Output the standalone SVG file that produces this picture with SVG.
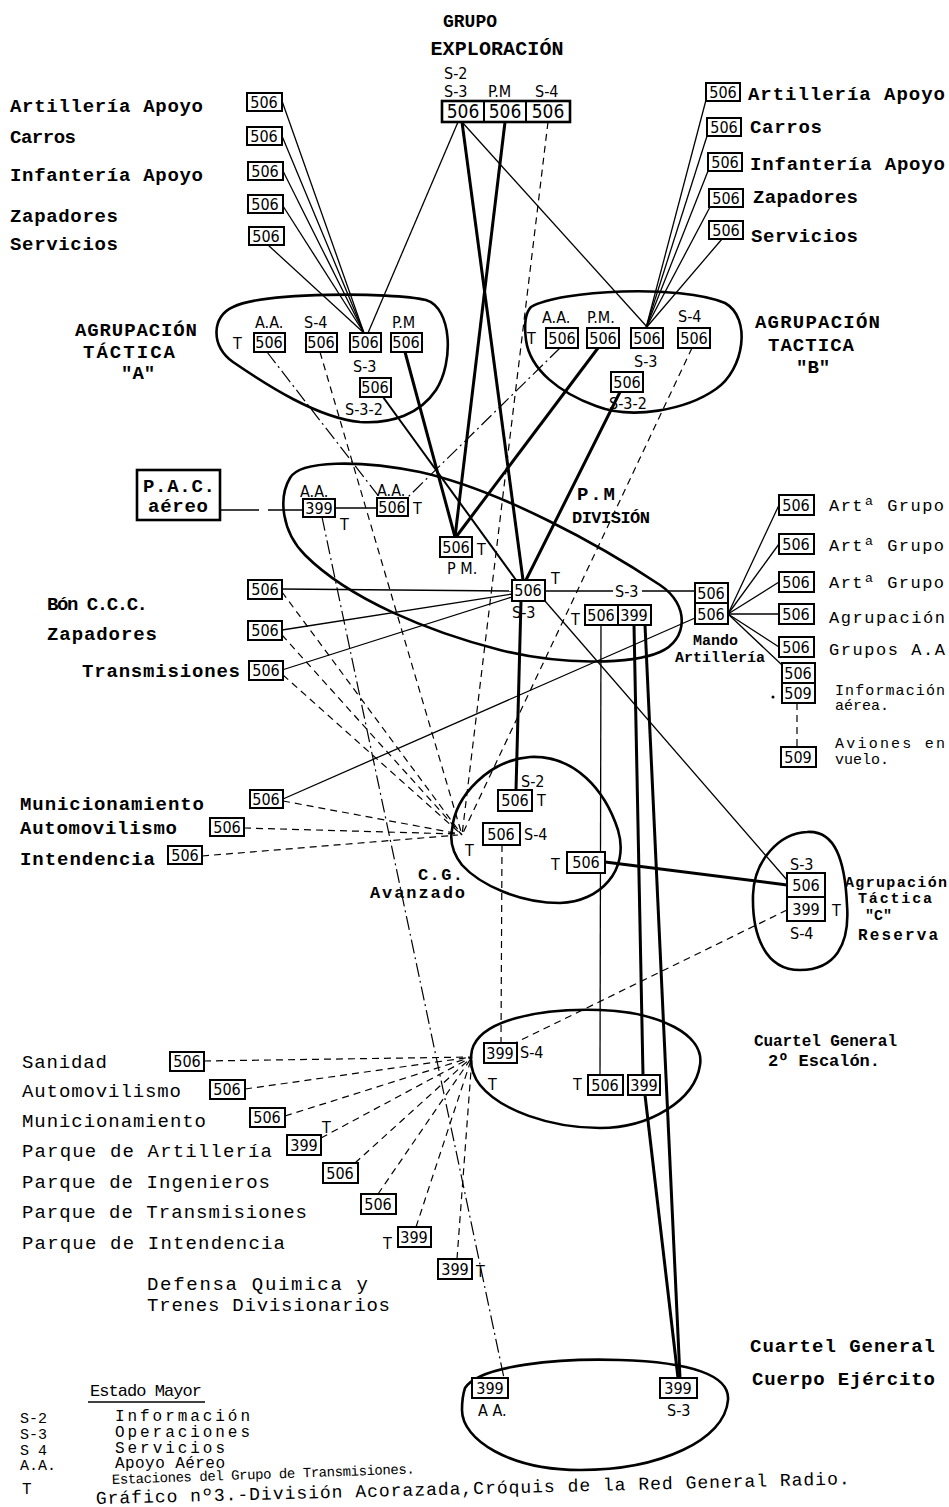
<svg xmlns="http://www.w3.org/2000/svg" width="949" height="1507" viewBox="0 0 949 1507">
<style>
.bg{fill:#fff}
.bx{fill:#fff;stroke:#000;stroke-width:2}
.bl{fill:none;stroke:#000;stroke-width:2.6}
.n{font-family:"Liberation Sans Narrow","DejaVu Sans Condensed","Liberation Sans",sans-serif;font-size:16px;fill:#000}
.c{text-anchor:middle}
.tw{font-family:"Liberation Mono","DejaVu Sans Mono",monospace;font-weight:bold;font-size:19px;fill:#000}
.tr{font-family:"Liberation Mono","DejaVu Sans Mono",monospace;font-size:19px;fill:#000}
.l{stroke:#000;stroke-width:1.3;fill:none}
.m{stroke:#000;stroke-width:2;fill:none}
.k{stroke:#000;stroke-width:3;fill:none}
.d{stroke:#000;stroke-width:1.2;stroke-dasharray:7 5;fill:none}
.dd{stroke:#000;stroke-width:1.2;stroke-dasharray:14 4 2 4;fill:none}
</style>
<rect class="bg" x="0" y="0" width="949" height="1507"/>

<g id="connectors">
<line class="l" x1="282" y1="101" x2="364" y2="333"/>
<line class="l" x1="282" y1="136" x2="364" y2="333"/>
<line class="l" x1="283" y1="171" x2="364" y2="333"/>
<line class="l" x1="283" y1="206" x2="364" y2="333"/>
<line class="l" x1="268" y1="245" x2="364" y2="333"/>
<line class="l" x1="706" y1="100" x2="646" y2="328"/>
<line class="l" x1="707" y1="136" x2="646" y2="328"/>
<line class="l" x1="708" y1="171" x2="646" y2="328"/>
<line class="l" x1="710" y1="207" x2="646" y2="328"/>
<line class="l" x1="722" y1="239" x2="646" y2="328"/>
<line class="l" x1="458" y1="122" x2="368" y2="333"/>
<line class="l" x1="462" y1="122" x2="648" y2="328"/>
<line class="k" x1="462" y1="122" x2="523" y2="580"/>
<line class="k" x1="505" y1="122" x2="455" y2="537"/>
<line class="d" x1="548" y1="122" x2="462" y2="835"/>
<line class="k" x1="405" y1="352" x2="455" y2="537"/>
<line class="m" x1="383" y1="397" x2="516" y2="580"/>
<line class="dd" x1="267" y1="352" x2="380" y2="498"/>
<line class="d" x1="320" y1="352" x2="462" y2="835"/>
<line class="k" x1="598" y1="348" x2="456" y2="537"/>
<line class="k" x1="620" y1="392" x2="526" y2="580"/>
<line class="dd" x1="560" y1="348" x2="407" y2="498"/>
<line class="d" x1="692" y1="348" x2="462" y2="835"/>
<line class="l" x1="220" y1="510" x2="259" y2="510"/>
<line class="l" x1="268" y1="510" x2="303" y2="510"/>
<line class="l" x1="335" y1="508" x2="377" y2="508"/>
<line class="dd" x1="322" y1="517" x2="504" y2="1378"/>
<line class="l" x1="545" y1="591" x2="613" y2="591"/>
<line class="l" x1="642" y1="591" x2="695" y2="591"/>
<line class="l" x1="282" y1="589" x2="512" y2="591"/>
<line class="l" x1="282" y1="630" x2="512" y2="594"/>
<line class="l" x1="282" y1="670" x2="512" y2="597"/>
<line class="k" x1="521" y1="601" x2="516" y2="790"/>
<line class="l" x1="545" y1="601" x2="787" y2="880"/>
<line class="l" x1="601" y1="625" x2="600" y2="1075"/>
<line class="k" x1="634" y1="625" x2="643" y2="1075"/>
<line class="k" x1="645" y1="625" x2="680" y2="1378"/>
<line class="k" x1="645" y1="1095" x2="678" y2="1378"/>
<line class="l" x1="728" y1="614" x2="779" y2="505"/>
<line class="l" x1="728" y1="614" x2="779" y2="544"/>
<line class="l" x1="728" y1="614" x2="779" y2="582"/>
<line class="l" x1="728" y1="614" x2="779" y2="614"/>
<line class="l" x1="728" y1="614" x2="779" y2="647"/>
<line class="l" x1="728" y1="614" x2="782" y2="665"/>
<line class="d" x1="797" y1="703" x2="797" y2="747"/>
<line class="l" x1="283" y1="799" x2="695" y2="618"/>
<line class="d" x1="282" y1="592" x2="462" y2="835"/>
<line class="d" x1="282" y1="635" x2="462" y2="835"/>
<line class="d" x1="283" y1="675" x2="462" y2="835"/>
<line class="d" x1="283" y1="801" x2="460" y2="834"/>
<line class="d" x1="244" y1="828" x2="458" y2="834"/>
<line class="d" x1="202" y1="856" x2="458" y2="835"/>
<line class="d" x1="502" y1="845" x2="501" y2="1043"/>
<line class="k" x1="605" y1="862" x2="787" y2="885"/>
<line class="d" x1="787" y1="910" x2="515" y2="1043"/>
<line class="d" x1="204" y1="1061" x2="472" y2="1057"/>
<line class="d" x1="245" y1="1089" x2="472" y2="1057"/>
<line class="d" x1="285" y1="1116" x2="472" y2="1057"/>
<line class="d" x1="321" y1="1138" x2="472" y2="1057"/>
<line class="d" x1="355" y1="1163" x2="472" y2="1057"/>
<line class="d" x1="378" y1="1194" x2="472" y2="1057"/>
<line class="d" x1="416" y1="1227" x2="472" y2="1057"/>
<line class="d" x1="457" y1="1259" x2="472" y2="1057"/>
</g>

<g id="grupo-exploracion">
<text class="tw c" x="470" y="27" style="font-size:18px">GRUPO</text>
<text class="tw c" x="497" y="55" style="font-size:20px" textLength="133">EXPLORACIÓN</text>
<text class="n" x="444" y="79">S-2</text>
<text class="n" x="444" y="97">S-3</text>
<text class="n" x="488" y="97">P.M</text>
<text class="n" x="535" y="97">S-4</text>
<rect class="bl" x="442" y="101" width="128" height="21"/>
<line class="m" x1="484" y1="101" x2="484" y2="122"/>
<line class="m" x1="526" y1="101" x2="526" y2="122"/>
<text class="n c" x="463" y="118" style="font-size:19px">506</text>
<text class="n c" x="505" y="118" style="font-size:19px">506</text>
<text class="n c" x="548" y="118" style="font-size:19px">506</text>
</g>

<g id="apoyo-izq">
<text class="tw" x="10" y="112" textLength="193">Artillería Apoyo</text>
<text class="tw" x="10" y="143" textLength="66">Carros</text>
<text class="tw" x="10" y="181" textLength="193">Infantería Apoyo</text>
<text class="tw" x="10" y="222" textLength="108">Zapadores</text>
<text class="tw" x="10" y="250" textLength="108">Servicios</text>
<rect class="bx" x="247" y="93" width="35" height="18"/><text class="n c" x="264" y="108">506</text>
<rect class="bx" x="247" y="127" width="35" height="18"/><text class="n c" x="264" y="142">506</text>
<rect class="bx" x="248" y="162" width="35" height="18"/><text class="n c" x="265" y="177">506</text>
<rect class="bx" x="248" y="195" width="35" height="18"/><text class="n c" x="265" y="210">506</text>
<rect class="bx" x="249" y="227" width="35" height="18"/><text class="n c" x="266" y="242">506</text>
</g>

<g id="apoyo-der">
<rect class="bx" x="706" y="83" width="34" height="18"/><text class="n c" x="723" y="98">506</text>
<rect class="bx" x="707" y="118" width="34" height="18"/><text class="n c" x="724" y="133">506</text>
<rect class="bx" x="708" y="153" width="34" height="18"/><text class="n c" x="725" y="168">506</text>
<rect class="bx" x="709" y="189" width="34" height="18"/><text class="n c" x="726" y="204">506</text>
<rect class="bx" x="709" y="221" width="34" height="18"/><text class="n c" x="726" y="236">506</text>
<text class="tw" x="748" y="100" textLength="197">Artillería Apoyo</text>
<text class="tw" x="750" y="133" textLength="72">Carros</text>
<text class="tw" x="750" y="170" textLength="195">Infantería Apoyo</text>
<text class="tw" x="753" y="203" textLength="105">Zapadores</text>
<text class="tw" x="751" y="242" textLength="107">Servicios</text>
</g>

<g id="agrupacion-a">
<path class="bl" d="M 233,307 C 262,292 392,292 426,300 C 452,308 454,362 436,390 C 420,414 392,424 360,422 C 318,418 268,386 233,362 C 210,345 212,316 233,307 Z"/>
<text class="tw" x="75" y="336" textLength="122">AGRUPACIÓN</text>
<text class="tw" x="83" y="358" textLength="92">TÁCTICA</text>
<text class="tw" x="121" y="379">"A"</text>
<text class="n" x="255" y="328">A.A.</text>
<text class="n" x="304" y="328">S-4</text>
<text class="n" x="392" y="328">P.M</text>
<text class="n" x="233" y="349">T</text>
<rect class="bx" x="254" y="333" width="31" height="19"/><text class="n c" x="269" y="348">506</text>
<rect class="bx" x="306" y="333" width="31" height="19"/><text class="n c" x="321" y="348">506</text>
<rect class="bx" x="350" y="333" width="31" height="19"/><text class="n c" x="365" y="348">506</text>
<rect class="bx" x="391" y="333" width="31" height="19"/><text class="n c" x="406" y="348">506</text>
<text class="n" x="353" y="372">S-3</text>
<rect class="bx" x="360" y="378" width="31" height="19"/><text class="n c" x="375" y="393">506</text>
<text class="n" x="345" y="415">S-3-2</text>
</g>

<g id="agrupacion-b">
<path class="bl" d="M 531,307 C 560,290 680,284 725,303 C 752,318 744,370 716,389 C 686,410 632,420 596,406 C 560,393 530,370 526,340 C 524,324 525,313 531,307 Z"/>
<text class="tw" x="755" y="328" textLength="125">AGRUPACIÓN</text>
<text class="tw" x="768" y="351" textLength="86">TACTICA</text>
<text class="tw" x="796" y="373">"B"</text>
<text class="n" x="542" y="323">A.A.</text>
<text class="n" x="587" y="323">P.M.</text>
<text class="n" x="678" y="322">S-4</text>
<text class="n" x="527" y="344">T</text>
<rect class="bx" x="546" y="328" width="32" height="20"/><text class="n c" x="562" y="344">506</text>
<rect class="bx" x="587" y="328" width="32" height="20"/><text class="n c" x="603" y="344">506</text>
<rect class="bx" x="631" y="328" width="32" height="20"/><text class="n c" x="647" y="344">506</text>
<rect class="bx" x="678" y="328" width="32" height="20"/><text class="n c" x="694" y="344">506</text>
<text class="n" x="634" y="367">S-3</text>
<rect class="bx" x="611" y="372" width="32" height="20"/><text class="n c" x="627" y="388">506</text>
<text class="n" x="609" y="409">S-3-2</text>
</g>

<g id="pac-aereo">
<rect class="bl" x="137" y="470" width="83" height="50"/>
<text class="tw" x="143" y="492" textLength="72">P.A.C.</text>
<text class="tw" x="148" y="512" textLength="60">aéreo</text>
</g>

<g id="pm-division">
<path class="bl" d="M 290,478 C 300,460 360,460 420,472 C 500,490 600,545 660,585 C 690,605 688,640 660,652 C 630,665 560,665 500,650 C 430,632 350,600 305,555 C 282,532 278,498 290,478 Z"/>
<text class="tw" x="577" y="500" textLength="38">P.M</text>
<text class="tw" x="572" y="523" style="font-size:17px" textLength="78">DIVISIÓN</text>
<text class="n" x="300" y="497">A.A.</text>
<rect class="bx" x="303" y="499" width="32" height="18"/><text class="n c" x="319" y="514">399</text>
<text class="n" x="340" y="530">T</text>
<text class="n" x="377" y="496">A.A.</text>
<rect class="bx" x="377" y="498" width="31" height="18"/><text class="n c" x="392" y="513">506</text>
<text class="n" x="413" y="514">T</text>
<rect class="bx" x="440" y="537" width="32" height="20"/><text class="n c" x="456" y="553">506</text>
<text class="n" x="477" y="555">T</text>
<text class="n" x="447" y="574">P M.</text>
<rect class="bx" x="512" y="580" width="33" height="21"/><text class="n c" x="528" y="596">506</text>
<text class="n" x="551" y="584">T</text>
<text class="n" x="512" y="618">S-3</text>
<text class="n" x="615" y="597">S-3</text>
<text class="n" x="571" y="625">T</text>
<rect class="bx" x="585" y="605" width="33" height="20"/><text class="n c" x="601" y="621">506</text>
<rect class="bx" x="618" y="605" width="33" height="20"/><text class="n c" x="634" y="621">399</text>
</g>

<g id="mando-artilleria">
<rect class="bx" x="695" y="583" width="33" height="20"/><text class="n c" x="711" y="599">506</text>
<rect class="bx" x="695" y="603" width="33" height="21"/><text class="n c" x="711" y="620">506</text>
<text class="tw" x="693" y="645" style="font-size:15px">Mando</text>
<text class="tw" x="675" y="662" style="font-size:15px" textLength="90">Artillería</text>
</g>

<g id="unidades-artilleria">
<rect class="bx" x="779" y="495" width="35" height="20"/><text class="n c" x="796" y="511">506</text>
<rect class="bx" x="779" y="534" width="35" height="20"/><text class="n c" x="796" y="550">506</text>
<rect class="bx" x="779" y="572" width="35" height="20"/><text class="n c" x="796" y="588">506</text>
<rect class="bx" x="779" y="604" width="35" height="20"/><text class="n c" x="796" y="620">506</text>
<rect class="bx" x="779" y="637" width="35" height="20"/><text class="n c" x="796" y="653">506</text>
<rect class="bx" x="782" y="663" width="33" height="20"/><text class="n c" x="798" y="679">506</text>
<rect class="bx" x="782" y="683" width="33" height="20"/><text class="n c" x="798" y="699">509</text>
<circle cx="773" cy="697" r="1.5" fill="#000"/>
<rect class="bx" x="781" y="747" width="35" height="20"/><text class="n c" x="798" y="763">509</text>
<text class="tr" x="829" y="511" style="font-size:17px" textLength="115">Artª Grupo</text>
<text class="tr" x="829" y="551" style="font-size:17px" textLength="115">Artª Grupo</text>
<text class="tr" x="829" y="588" style="font-size:17px" textLength="115">Artª Grupo</text>
<text class="tr" x="829" y="623" style="font-size:17px" textLength="116">Agrupación</text>
<text class="tr" x="829" y="655" style="font-size:17px" textLength="116">Grupos A.A</text>
<text class="tr" x="835" y="695" style="font-size:15px" textLength="110">Información</text>
<text class="tr" x="835" y="710" style="font-size:15px">aérea.</text>
<text class="tr" x="835" y="748" style="font-size:15px" textLength="110">Aviones en</text>
<text class="tr" x="835" y="764" style="font-size:15px">vuelo.</text>
</g>

<g id="bon-ccc">
<text class="tw" x="47" y="610" textLength="101">Bón C.C.C.</text>
<text class="tw" x="47" y="640" textLength="110">Zapadores</text>
<text class="tw" x="82" y="677" textLength="158">Transmisiones</text>
<rect class="bx" x="248" y="580" width="34" height="19"/><text class="n c" x="265" y="595">506</text>
<rect class="bx" x="248" y="621" width="34" height="19"/><text class="n c" x="265" y="636">506</text>
<rect class="bx" x="249" y="661" width="34" height="19"/><text class="n c" x="266" y="676">506</text>
</g>

<g id="servicios-avanzados">
<text class="tw" x="20" y="810" textLength="184">Municionamiento</text>
<text class="tw" x="20" y="834" textLength="157">Automovilismo</text>
<text class="tw" x="20" y="865" textLength="135">Intendencia</text>
<rect class="bx" x="250" y="790" width="33" height="18"/><text class="n c" x="266" y="805">506</text>
<rect class="bx" x="210" y="818" width="34" height="18"/><text class="n c" x="227" y="833">506</text>
<rect class="bx" x="168" y="846" width="34" height="18"/><text class="n c" x="185" y="861">506</text>
</g>

<g id="cg-avanzado">
<path class="bl" d="M 452,830 C 455,795 490,760 530,757 C 575,755 605,790 618,830 C 630,870 600,902 560,903 C 520,903 480,885 462,865 C 452,852 450,840 452,830 Z"/>
<text class="n" x="521" y="787">S-2</text>
<rect class="bx" x="498" y="790" width="34" height="21"/><text class="n c" x="515" y="806">506</text>
<text class="n" x="537" y="806">T</text>
<rect class="bx" x="483" y="823" width="37" height="22"/><text class="n c" x="501" y="840">506</text>
<text class="n" x="524" y="840">S-4</text>
<text class="n" x="465" y="856">T</text>
<text class="n" x="551" y="870">T</text>
<rect class="bx" x="567" y="852" width="38" height="21"/><text class="n c" x="586" y="868">506</text>
<text class="tw" x="418" y="880" style="font-size:17px" textLength="45">C.G.</text>
<text class="tw" x="370" y="898" style="font-size:17px" textLength="95">Avanzado</text>
</g>

<g id="agrupacion-c">
<path class="bl" d="M 807,832 C 835,830 845,860 847,905 C 850,945 835,970 800,970 C 765,970 752,935 753,895 C 754,860 780,833 807,832 Z"/>
<text class="n" x="790" y="870">S-3</text>
<rect class="bx" x="787" y="873" width="38" height="24"/><text class="n c" x="806" y="891">506</text>
<rect class="bx" x="787" y="897" width="38" height="24"/><text class="n c" x="806" y="915">399</text>
<text class="n" x="832" y="916">T</text>
<text class="n" x="790" y="939">S-4</text>
<text class="tw" x="845" y="887" style="font-size:15px" textLength="102">Agrupación</text>
<text class="tw" x="858" y="903" style="font-size:15px" textLength="74">Táctica</text>
<text class="tw" x="865" y="920" style="font-size:15px">"C"</text>
<text class="tw" x="858" y="940" style="font-size:16px" textLength="80">Reserva</text>
</g>

<g id="cg-2-escalon">
<path class="bl" d="M 472,1050 C 480,1020 540,1008 600,1010 C 660,1012 705,1035 700,1065 C 695,1100 650,1128 600,1128 C 550,1128 500,1110 480,1085 C 470,1072 470,1060 472,1050 Z"/>
<rect class="bx" x="484" y="1043" width="33" height="20"/><text class="n c" x="500" y="1059">399</text>
<text class="n" x="520" y="1058">S-4</text>
<text class="n" x="488" y="1090">T</text>
<text class="n" x="573" y="1090">T</text>
<rect class="bx" x="588" y="1075" width="35" height="20"/><text class="n c" x="605" y="1091">506</text>
<rect class="bx" x="628" y="1075" width="32" height="20"/><text class="n c" x="644" y="1091">399</text>
<text class="tw" x="754" y="1046" style="font-size:16px" textLength="143">Cuartel General</text>
<text class="tw" x="768" y="1066" style="font-size:17px" textLength="112">2º Escalón.</text>
</g>

<g id="servicios-retaguardia">
<text class="tr" x="22" y="1068" textLength="85">Sanidad</text>
<text class="tr" x="22" y="1097" textLength="159">Automovilismo</text>
<text class="tr" x="22" y="1127" textLength="184">Municionamiento</text>
<text class="tr" x="22" y="1157" textLength="250">Parque de Artillería</text>
<text class="tr" x="22" y="1188" textLength="248">Parque de Ingenieros</text>
<text class="tr" x="22" y="1218" textLength="285">Parque de Transmisiones</text>
<text class="tr" x="22" y="1249" textLength="263">Parque de Intendencia</text>
<text class="tr" x="147" y="1290" textLength="221">Defensa Quimica  y</text>
<text class="tr" x="147" y="1311" textLength="243">Trenes Divisionarios</text>
<rect class="bx" x="170" y="1052" width="34" height="19"/><text class="n c" x="187" y="1067">506</text>
<rect class="bx" x="210" y="1080" width="35" height="19"/><text class="n c" x="227" y="1095">506</text>
<rect class="bx" x="250" y="1108" width="35" height="19"/><text class="n c" x="267" y="1123">506</text>
<rect class="bx" x="287" y="1135" width="34" height="20"/><text class="n c" x="304" y="1151">399</text>
<text class="n" x="322" y="1133">T</text>
<rect class="bx" x="323" y="1163" width="35" height="20"/><text class="n c" x="340" y="1179">506</text>
<rect class="bx" x="361" y="1194" width="35" height="20"/><text class="n c" x="378" y="1210">506</text>
<text class="n" x="383" y="1249">T</text>
<rect class="bx" x="398" y="1227" width="33" height="20"/><text class="n c" x="414" y="1243">399</text>
<rect class="bx" x="438" y="1259" width="34" height="20"/><text class="n c" x="455" y="1275">399</text>
<text class="n" x="476" y="1277">T</text>
</g>

<g id="cg-cuerpo-ejercito">
<path class="bl" d="M 465,1388 C 480,1365 560,1358 620,1360 C 690,1362 730,1375 728,1400 C 725,1440 660,1470 580,1470 C 510,1470 462,1440 462,1410 C 462,1400 463,1394 465,1388 Z"/>
<rect class="bx" x="472" y="1378" width="36" height="20"/><text class="n c" x="490" y="1394">399</text>
<text class="n" x="478" y="1416">A A.</text>
<rect class="bx" x="660" y="1378" width="37" height="20"/><text class="n c" x="678" y="1394">399</text>
<text class="n" x="667" y="1416">S-3</text>
<text class="tw" x="750" y="1352" textLength="185">Cuartel General</text>
<text class="tw" x="752" y="1385" textLength="183">Cuerpo Ejército</text>
</g>

<g id="leyenda">
<text class="tr" x="90" y="1396" style="font-size:17px" textLength="112">Estado Mayor</text>
<line class="l" x1="88" y1="1402" x2="205" y2="1402"/>
<text class="tr" x="20" y="1423" style="font-size:15px">S-2</text>
<text class="tr" x="115" y="1421" style="font-size:16px" textLength="135">Información</text>
<text class="tr" x="20" y="1439" style="font-size:15px">S-3</text>
<text class="tr" x="115" y="1437" style="font-size:16px" textLength="135">Operaciones</text>
<text class="tr" x="20" y="1455" style="font-size:15px">S 4</text>
<text class="tr" x="115" y="1453" style="font-size:16px" textLength="110">Servicios</text>
<text class="tr" x="20" y="1470" style="font-size:15px">A.A.</text>
<text class="tr" x="115" y="1468" style="font-size:16px" textLength="110">Apoyo Aéreo</text>
<text class="tr" x="112" y="1484" style="font-size:14px" textLength="303" transform="rotate(-2 112 1484)">Estaciones del Grupo de Transmisiones.</text>
<text class="tr" x="22" y="1494" style="font-size:16px">T</text>
<text class="tr" x="96" y="1504" style="font-size:18px" textLength="754" transform="rotate(-1.5 96 1504)">Gráfico nº3.-División Acorazada,Cróquis de la Red General Radio.</text>
</g>
</svg>
